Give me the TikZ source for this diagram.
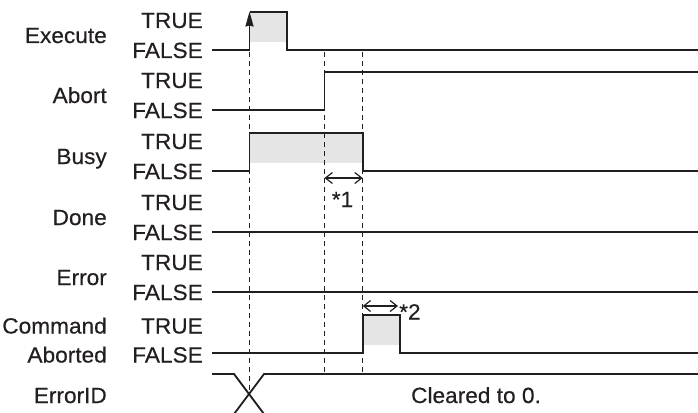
\documentclass[tikz,border=0pt]{standalone}
\usepackage{fontspec}
\setmainfont[FakeStretch=1.03,FakeBold=0.4]{Liberation Sans}
\usetikzlibrary{arrows.meta}
\definecolor{ink}{HTML}{231F20}
\begin{document}
\begin{tikzpicture}[x=1pt,y=-1pt,
  sig/.style={line width=1.8pt, draw=ink, line join=miter},
  shadebox/.style={fill=black!10},
  guide/.style={line width=1pt, draw=ink, dash pattern=on 5pt off 4pt},
  lbl/.style={font=\fontsize{22}{26}\selectfont, inner sep=0pt, anchor=base east, text=ink},
  note/.style={font=\fontsize{22}{26}\selectfont, inner sep=0pt, text=ink},
  meas/.style={line width=1.2pt, draw=ink, {Straight Barb[length=7pt,width=11pt]}-{Straight Barb[length=7pt,width=11pt]}}]
\useasboundingbox (0,0) rectangle (698,412);

% time instants
\coordinate (a1) at (324.5,178);
\coordinate (a2) at (362.7,178);
\coordinate (b1) at (362.7,306);
\coordinate (b2) at (398,306);

% labels
\node[lbl] (nExe) at (107,43) {Execute};
\node[lbl] (tExe) at (203,28) {TRUE};
\node[lbl] (fExe) at (203,58) {FALSE};
\node[lbl] (nAb) at (107,103) {Abort};
\node[lbl] (tAb) at (203,88) {TRUE};
\node[lbl] (fAb) at (203,118) {FALSE};
\node[lbl] (nBu) at (107,164) {Busy};
\node[lbl] (tBu) at (203,149) {TRUE};
\node[lbl] (fBu) at (203,179) {FALSE};
\node[lbl] (nDo) at (107,225) {Done};
\node[lbl] (tDo) at (203,210) {TRUE};
\node[lbl] (fDo) at (203,240) {FALSE};
\node[lbl] (nEr) at (107,285) {Error};
\node[lbl] (tEr) at (203,270) {TRUE};
\node[lbl] (fEr) at (203,300) {FALSE};
\node[lbl] (nCA1) at (107,333.5) {Command};
\node[lbl] (nCA2) at (107,362.5) {Aborted};
\node[lbl] (tCA) at (203,333.5) {TRUE};
\node[lbl] (fCA) at (203,362.5) {FALSE};
\node[lbl] (nEID) at (107,403) {ErrorID};
\node[note, anchor=base] (clr) at (476,403) {Cleared to 0.};

% shading
\fill[shadebox] (249.5,12) rectangle (287,42);
\fill[shadebox] (249.5,133) rectangle (362.7,163);
\fill[shadebox] (362.7,315) rectangle (400,345);

% guide lines
\draw[guide] (249.5,52) -- (249.5,396);
\draw[guide] (324.5,52) -- (324.5,374);
\draw[guide] (362.7,52) -- (362.7,374);

% Execute
\draw[sig] (212,50) -- (249.5,50);
\draw[sig, -{Stealth[length=15pt,width=8pt,inset=1pt]}] (249.5,50) -- (249.5,11.5);
\draw[sig] (249.5,12) -- (287,12) -- (287,50) -- (698,50);
% Abort
\draw[sig] (212,110) -- (324.5,110) -- (324.5,72) -- (698,72);
% Busy
\draw[sig] (212,171) -- (249.5,171) -- (249.5,133) -- (362.7,133) -- (362.7,171) -- (698,171);
% Done
\draw[sig] (212,232) -- (698,232);
% Error
\draw[sig] (212,292) -- (698,292);
% CommandAborted
\draw[sig] (212,353) -- (362.7,353) -- (362.7,315) -- (400,315) -- (400,353) -- (698,353);
% ErrorID
\draw[sig] (212,374) -- (234,374) -- (264,414);
\draw[sig] (698,374) -- (264,374) -- (234,414);

% measurements
\draw[meas] (a1) -- (a2);
\node[note, anchor=base] (s1) at (342.5,207) {*1};
\draw[meas] (b1) -- (b2);
\node[note, anchor=base west] (s2) at (399,319.5) {*2};
\end{tikzpicture}
\end{document}
